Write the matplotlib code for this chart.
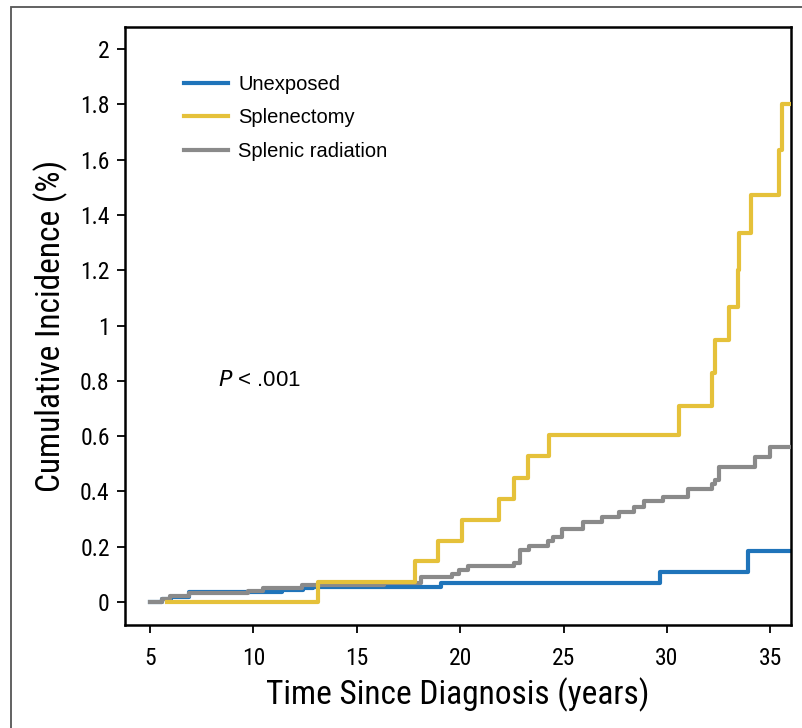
import matplotlib as mpl
import matplotlib.pyplot as plt
from matplotlib import font_manager
from matplotlib.patches import Rectangle

# the reference uses a condensed face for axes text; take the first one installed
names = {f.name for f in font_manager.fontManager.ttflist}
narrow = 'Roboto'
for cand in ['Liberation Sans Narrow', 'Roboto Condensed', 'Open Sans Condensed', 'Arial Narrow']:
    if cand in names:
        narrow = cand
        break
mpl.rcParams['font.family'] = [narrow, 'DejaVu Sans']

# step data (time in years, cumulative incidence in %)
unexp_t = [5.0, 5.6, 6.0, 6.9, 11.4, 12.4, 12.9, 19.05, 29.67, 33.9, 36.0]
unexp_y = [0.0, 0.01, 0.02, 0.035, 0.043, 0.05, 0.056, 0.07, 0.107, 0.186, 0.186]

splen_t = [5.8, 13.13, 17.82, 18.95, 20.08, 21.9, 22.61, 23.27, 24.30, 30.6,
           32.17, 32.33, 33.0, 33.43, 33.5, 34.06, 35.40, 35.56, 36.0]
splen_y = [0.0, 0.072, 0.147, 0.222, 0.298, 0.373, 0.448, 0.527, 0.605, 0.710,
           0.828, 0.946, 1.068, 1.20, 1.334, 1.472, 1.635, 1.80, 1.80]

rad_t = [5.0, 5.6, 5.97, 6.9, 9.76, 10.48, 12.34, 16.3, 18.1, 19.6, 19.92, 20.4,
         22.58, 22.9, 23.34, 24.27, 24.51, 24.92, 25.96, 26.85, 27.66, 28.43,
         28.87, 29.83, 31.04, 32.17, 32.33, 32.54, 34.27, 35.0, 36.0]
rad_y = [0.0, 0.011, 0.022, 0.033, 0.041, 0.05, 0.06, 0.07, 0.092, 0.102, 0.116, 0.130,
         0.142, 0.19, 0.204, 0.222, 0.236, 0.263, 0.29, 0.308, 0.327, 0.345,
         0.365, 0.381, 0.408, 0.427, 0.441, 0.487, 0.523, 0.562, 0.562]

x_ticks = [5, 10, 15, 20, 25, 30, 35]
y_ticks = [0, 0.2, 0.4, 0.6, 0.8, 1.0, 1.2, 1.4, 1.6, 1.8, 2.0]
y_labels = ['0', '0.2', '0.4', '0.6', '0.8', '1', '1.2', '1.4', '1.6', '1.8', '2']

fig = plt.figure(figsize=(8.03, 7.28), dpi=100)
ax = fig.add_axes([0.1557, 0.1415, 0.8293, 0.8215])

# outer frame (open on right and bottom, like the cropped figure box)
fig.add_artist(Rectangle((11 / 803, -0.2), 1.2, 0.2 + 1 - 7 / 728, transform=fig.transFigure,
                         fill=False, edgecolor='#555555', linewidth=1.3))

lw = 3.0
ax.step(unexp_t, unexp_y, where='post', color='#1f74ba', lw=lw, label='Unexposed', zorder=2)
ax.step(rad_t, rad_y, where='post', color='#8a8a8a', lw=lw, label='Splenic radiation', zorder=3)
ax.step(splen_t, splen_y, where='post', color='#e5c13a', lw=lw, label='Splenectomy', zorder=4)

ax.set_xlim(3.79, 36.0)
ax.set_ylim(-0.083, 2.08)
ax.set_xticks(x_ticks)
ax.set_yticks(y_ticks, labels=y_labels)
ax.tick_params(direction='out', length=6, width=1.3, labelsize=17)
ax.tick_params(axis='x', pad=10)
ax.tick_params(axis='y', pad=5)
for s in ax.spines.values():
    s.set_linewidth(1.8)

ax.set_xlabel('Time Since Diagnosis (years)', fontsize=24, labelpad=5)
ax.set_ylabel('Cumulative Incidence (%)', fontsize=24, labelpad=9)

handles, labels = ax.get_legend_handles_labels()
order = [0, 2, 1]
ax.legend([handles[i] for i in order], [labels[i] for i in order],
          loc='upper left', bbox_to_anchor=(0.061, 0.95), frameon=False,
          prop={'family': 'Liberation Sans', 'size': 14.5}, handlelength=2.2,
          labelspacing=0.72, handletextpad=0.5)

ax.text(0.14, 0.408, r'$\it{P}$ < .001', transform=ax.transAxes, fontsize=16,
        family='Liberation Sans', va='center')

plt.savefig('out.png', dpi=100)
